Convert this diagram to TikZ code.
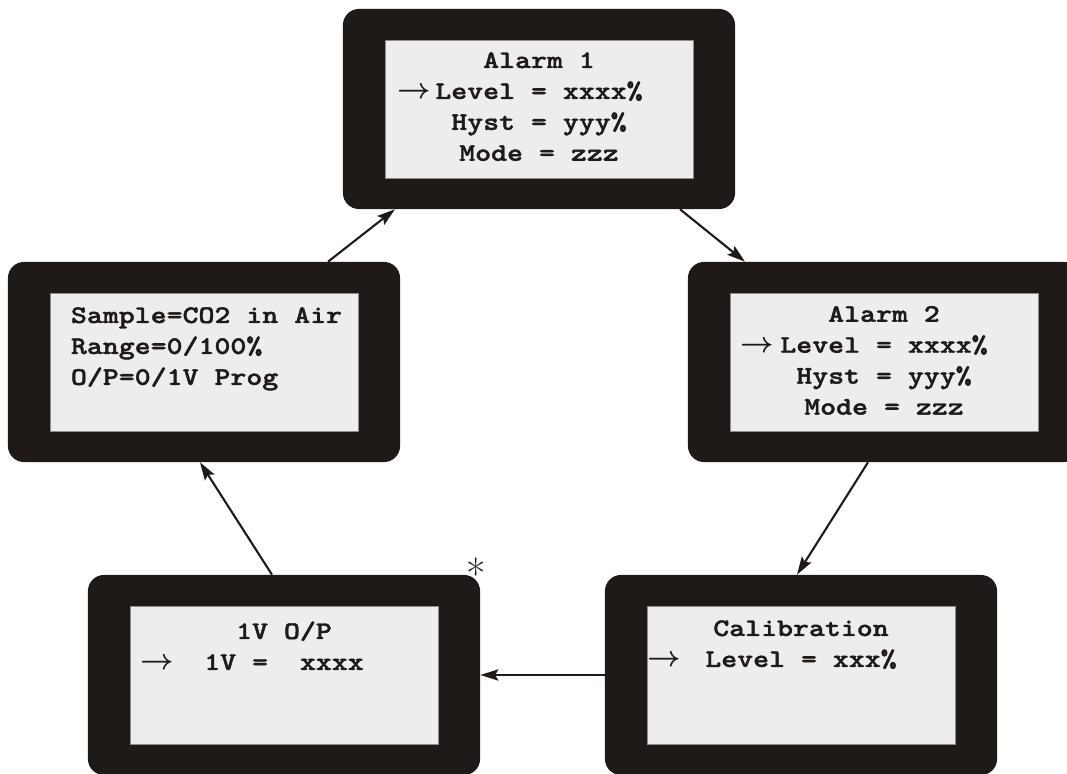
\documentclass[tikz,border=0pt]{standalone}
\usepackage{fontspec}
\usepackage{tikz}
\usetikzlibrary{arrows.meta, positioning}
\newfontfamily\lcdfont{lmmonolt10-bold.otf}[FakeStretch=1.2,FakeBold=1.5]
\definecolor{framecol}{HTML}{1F1A17}
\definecolor{screencol}{HTML}{EDEDED}
\newcommand{\lcdstrut}{\rule{0pt}{0.5cm}}
\newcommand{\lcdarrow}{{\fontsize{22}{22}\selectfont$\rightarrow$}}
\tikzstyle{lcdframe}=
[
	rectangle
	,rounded corners=0.4cm
	,minimum width=9.8cm
	,minimum height=5cm
	,fill=framecol
]
\tikzstyle{lcdscreen}=
[
	rectangle
	,minimum width=7.7cm
	,minimum height=3.45cm
	,inner sep=0pt
	,fill=screencol
	,draw=black!45
	,line width=0.4pt
]
\tikzstyle{lcdtext}=
[
	inner sep=0pt
	,font=\lcdfont\fontsize{18}{22}\selectfont\boldmath
	,text=framecol
]
\tikzstyle{arrow} = [line width=1.5pt,draw=framecol,-{Stealth[length=0.45cm,width=0.28cm,inset=0.08cm]}]

\begin{document}
\begin{tikzpicture}[x=0.025cm,y=-0.025cm]
\clip (0,0) rectangle (1067,774);
% displays
\node(alarm1)[lcdframe] at (539,109) {};
\node(sample)[lcdframe] at (204,362) {};
\node(alarm2)[lcdframe] at (884,362) {};
\node(output)[lcdframe] at (284,675) {};
\node(calib)[lcdframe] at (801,675) {};

\node(scr1)[lcdscreen] at (alarm1.center) {};
\node(scr2)[lcdscreen] at (sample.center) {};
\node(scr3)[lcdscreen] at (alarm2.center) {};
\node(scr4)[lcdscreen] at (output.center) {};
\node(scr5)[lcdscreen] at (calib.center) {};

% screen texts
\node(txt1)[lcdtext,align=center,anchor=north] at ([yshift=-0.2cm]scr1.north) {\lcdstrut Alarm 1\\ \llap{\lcdarrow\,}Level = xxxx\%\\ Hyst = yyy\%\\ Mode = zzz};
\node(txt2)[lcdtext,align=left,anchor=north west] at ([xshift=0.525cm,yshift=-0.25cm]scr2.north west) {\lcdstrut Sample=CO2 in Air\\ Range=0/100\%\\ O/P=0/1V Prog};
\node(txt3)[lcdtext,align=center,anchor=north] at ([yshift=-0.22cm]scr3.north) {\lcdstrut Alarm 2\\ \llap{\lcdarrow\hspace{0.15cm}}Level = xxxx\%\\ Hyst = yyy\%\\ Mode = zzz};
\node(txt4)[lcdtext,align=center,anchor=north] at ([yshift=-0.325cm]scr4.north) {\lcdstrut 1V O/P\\ \llap{\lcdarrow\hspace{0.75cm}}1V =\ \ xxxx};
\node(txt5)[lcdtext,align=center,anchor=north] at ([yshift=-0.25cm]scr5.north) {\lcdstrut Calibration\\ \llap{\lcdarrow\hspace{0.6cm}}Level = xxx\%};

\node(star)[inner sep=0pt,text=framecol,font=\fontsize{30}{30}\selectfont] at ([xshift=-0.1cm,yshift=0.03cm]output.north east) {*};

% connectors
\draw[arrow]([xshift=3.1cm]sample.north)--([xshift=-3.6cm]alarm1.south);
\draw[arrow]([xshift=3.525cm]alarm1.south)--([xshift=-3.475cm]alarm2.north);
\draw[arrow]([xshift=-0.4cm]alarm2.south)--([xshift=-0.1cm]calib.north);
\draw[arrow](calib.west)--(output.east);
\draw[arrow]([xshift=-0.3cm]output.north)--([xshift=-0.1cm]sample.south);

\end{tikzpicture}
\end{document}
